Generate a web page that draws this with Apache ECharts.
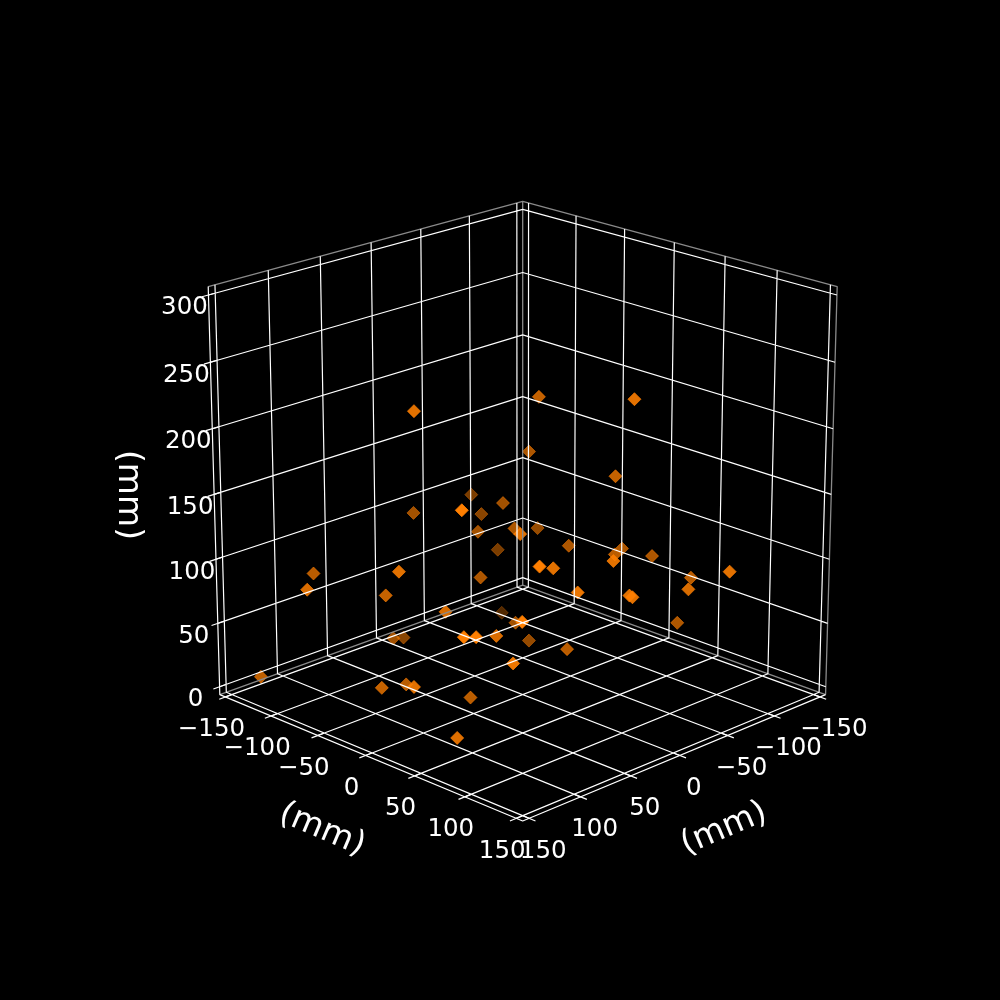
<!DOCTYPE html>
<html><head><meta charset="utf-8"><style>html,body{margin:0;background:#000}#c{width:1000px;height:1000px}</style>
<script src="https://cdn.jsdelivr.net/npm/echarts@6/dist/echarts.min.js"></script></head><body><div id="c"></div>
<script>
// Values in mm
const xVals=[68,-36,-44,-47,-61,-60,-37,99,-49,11,-19,-26,36,-63,-64,-51,-78,-60,-6,-92,70,25,103,98,0,-62,-95,-52,140,77,30,-8,-9,74,-80,-22,88,-93,14,44,119,113,53,-39,-19,74,149,95,70,115,41,99];
const yVals=[-41,-20,67,-41,33,-115,-58,39,-93,-103,-66,-35,33,-48,-91,-4,24,34,84,41,86,55,-21,-117,-44,144,77,114,-77,-63,84,98,100,-4,-103,-30,87,66,-112,-91,61,67,26,-33,26,64,-119,-49,-50,6,-13,33];
const zVals=[220,211,228,161,157,105,119,174,98,112,99,108,138,95,66,96,94,97,120,89,137,115,113,84,74,113,81,94,94,76,106,97,96,79,7,36,101,43,11,25,91,91,63,16,32,59,17,13,8,36,0,0];
const xyTicks=[-150,-100,-50,0,50,100,150];
const zTicks=[0,50,100,150,200,250,300];
const axisName='(mm)';
const XL=156.25,ZL=-6.25,ZH=306.25,TK=6;

// mplot3d style view: elev 20, azim 45, focal distance 10, cube box
const K=.55015/156.25,CX=522.7,CY=494.4,SX=3966,SY=3945;
const se=Math.sin(20*Math.PI/180),ce=Math.cos(20*Math.PI/180),r2=Math.SQRT1_2;
function depth(x,y,z){return ce*r2*K*(x+y)+se*K*(z-150);}
function project(x,y,z){
  const dx=K*x,dy=K*y,dz=K*(z-150);
  const u=r2*(dy-dx),v=-se*r2*(dx+dy)+ce*dz,f=1/(10-depth(x,y,z));
  return [CX+SX*u*f,CY-SY*v*f];
}
function poly(list){const out=[];list.forEach(p=>{p.forEach(q=>out.push(project(q[0],q[1],q[2])));out.push(null);});return out;}

const gridPaths=[];
xyTicks.forEach(t=>{
  gridPaths.push([[t,XL,ZL],[t,-XL,ZL],[t,-XL,ZH]]);
  gridPaths.push([[XL,t,ZL],[-XL,t,ZL],[-XL,t,ZH]]);
});
zTicks.forEach(t=>gridPaths.push([[XL,-XL,t],[-XL,-XL,t],[-XL,XL,t]]));
const panePaths=[
  [[XL,-XL,ZH],[-XL,-XL,ZH],[-XL,XL,ZH],[-XL,XL,ZL]],
  [[-XL,-XL,ZL],[-XL,-XL,ZH]],
  [[XL,-XL,ZL],[-XL,-XL,ZL],[-XL,XL,ZL]]
];
const axisPaths=[
  [[XL,-XL,ZH],[XL,-XL,ZL],[XL,XL,ZL],[-XL,XL,ZL]]
];
const tickPaths=[];
xyTicks.forEach(t=>{
  tickPaths.push([[t,XL-TK,ZL],[t,XL+TK,ZL]]);
  tickPaths.push([[XL-TK,t,ZL],[XL+TK,t,ZL]]);
});
zTicks.forEach(t=>tickPaths.push([[XL-TK,-XL,t],[XL+TK,-XL,t]]));

function lineSeries(paths,color,width){
  return {type:'line',data:poly(paths),showSymbol:false,symbol:'none',silent:true,animation:false,connectNulls:false,
    lineStyle:{color,width}};
}
const font="'DejaVu Sans'";
function labelSeries(items,offset,size,rotate){
  return {type:'scatter',symbolSize:0,silent:true,animation:false,itemStyle:{opacity:1},
    data:items.map(i=>({value:i.p,label:{show:true,formatter:i.t}})),
    label:{show:true,position:'inside',offset,color:'#fff',fontFamily:font,fontSize:size,rotate:rotate||0,align:'center',verticalAlign:'middle'}};
}
const minus=v=>String(v).replace('-','\u2212');

// points, far first, faded with depth
const pts=xVals.map((x,i)=>({x,y:yVals[i],z:zVals[i],n:depth(x,yVals[i],zVals[i])}));
pts.sort((a,b)=>a.n-b.n);
const fade=n=>.32+.68*Math.pow(Math.max(0,Math.min(1,(n+.6)/.95)),.75);
const ptData=pts.map(p=>({value:project(p.x,p.y,p.z),itemStyle:{opacity:fade(p.n)}}));

const option={
  backgroundColor:'#000',animation:false,
  grid:{left:0,right:0,top:0,bottom:0},
  xAxis:{type:'value',min:0,max:1000,show:false},
  yAxis:{type:'value',min:0,max:1000,inverse:true,show:false},
  series:[
    lineSeries(panePaths,'#8a8a8a',1.3),
    lineSeries(gridPaths,'#ffffff',1.2),
    lineSeries(axisPaths,'#ffffff',1.2),
    lineSeries(tickPaths,'#ffffff',1.2),
    {type:'scatter',symbol:'diamond',symbolSize:13,symbolOffset:[.5,.3],silent:true,animation:false,data:ptData,itemStyle:{color:'#ff7f00',borderColor:'#ff7f00',borderWidth:.8}},
    labelSeries(xyTicks.map(t=>({p:project(t,XL,ZL),t:minus(t)})),[14,33],24.5),
    labelSeries(xyTicks.map(t=>({p:project(XL,t,ZL),t:minus(t)})),[-14,33],24.5),
    labelSeries(zTicks.map(t=>({p:project(XL,-XL,t),t:String(t)})),[-24,13],24.5),
    labelSeries([{p:[128,495],t:axisName}],[0,0],33,-90),
    labelSeries([{p:[322,830],t:axisName}],[0,0],33,-23),
    labelSeries([{p:[724,829],t:axisName}],[0,0],33,23)
  ]
};
echarts.init(document.getElementById('c'),null,{renderer:'canvas'}).setOption(option);
</script></body></html>
